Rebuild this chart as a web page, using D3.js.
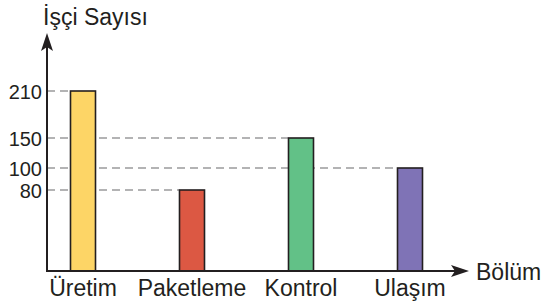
<!DOCTYPE html>
<html>
<head>
<meta charset="utf-8">
<script src="https://cdn.jsdelivr.net/npm/d3@7.9.0/dist/d3.min.js"></script>
<style>
  html, body { margin: 0; padding: 0; background: #fff; }
  text { font-family: "Liberation Sans", Arial, sans-serif; fill: #231f20; }
</style>
</head>
<body>
<svg id="chart" width="544" height="305"></svg>
<script>
// Data
const categories = ["Üretim", "Paketleme", "Kontrol", "Ulaşım"];
const workers = [210, 80, 150, 100];
const tickValues = [80, 100, 150, 210];
const barColors = ["#fdd566", "#dc5843", "#62c187", "#7f73b6"];

const svg = d3.select("#chart");
const ink = "#231f20";

const axisX = 47;
const baseY = 271;

// the chart is drawn schematically, so the value axis is piecewise
const y = d3.scaleLinear()
  .domain([0, 80, 100, 150, 210])
  .range([baseY, 190, 168, 138, 91]);

const x = d3.scalePoint()
  .domain(categories)
  .range([83, 410]);

const barW = 25;
const data = categories.map((c, i) => ({ cat: c, value: workers[i], color: barColors[i] }));

// dashed guide lines (behind the bars)
svg.append("g")
  .selectAll("line")
  .data(data)
  .join("line")
  .attr("x1", axisX)
  .attr("x2", d => x(d.cat) - barW / 2)
  .attr("y1", d => y(d.value))
  .attr("y2", d => y(d.value))
  .attr("stroke", "#9a9a9c")
  .attr("stroke-width", 1.6)
  .attr("stroke-dasharray", "8,5");

// bars
svg.append("g")
  .selectAll("rect")
  .data(data)
  .join("rect")
  .attr("x", d => x(d.cat) - barW / 2)
  .attr("y", d => y(d.value))
  .attr("width", barW)
  .attr("height", d => baseY - y(d.value))
  .attr("fill", d => d.color)
  .attr("stroke", ink)
  .attr("stroke-width", 1.6);

// axes
svg.append("line")
  .attr("x1", axisX).attr("x2", axisX)
  .attr("y1", baseY + 1).attr("y2", 44)
  .attr("stroke", ink).attr("stroke-width", 2);

svg.append("line")
  .attr("x1", axisX - 1).attr("x2", 460)
  .attr("y1", baseY).attr("y2", baseY)
  .attr("stroke", ink).attr("stroke-width", 2);

// arrow heads
svg.append("path")
  .attr("d", `M${axisX},33 L${axisX + 6},51 L${axisX},47 L${axisX - 6},51 Z`)
  .attr("fill", ink);

svg.append("path")
  .attr("d", `M469,${baseY} L451,${baseY - 6} L455,${baseY} L451,${baseY + 6} Z`)
  .attr("fill", ink);

// tick labels
svg.append("g")
  .selectAll("text")
  .data(tickValues)
  .join("text")
  .attr("x", 42)
  .attr("y", d => y(d))
  .attr("dy", "0.42em")
  .attr("text-anchor", "end")
  .attr("font-size", 20)
  .text(d => d);

// category labels
svg.append("g")
  .selectAll("text")
  .data(categories)
  .join("text")
  .attr("x", d => x(d))
  .attr("y", 296)
  .attr("text-anchor", "middle")
  .attr("font-size", 23)
  .text(d => d);

// axis titles
svg.append("text")
  .attr("x", 43).attr("y", 25)
  .attr("font-size", 23)
  .text("İşçi Sayısı");

svg.append("text")
  .attr("x", 476).attr("y", 280)
  .attr("font-size", 23)
  .text("Bölüm");
</script>
</body>
</html>
